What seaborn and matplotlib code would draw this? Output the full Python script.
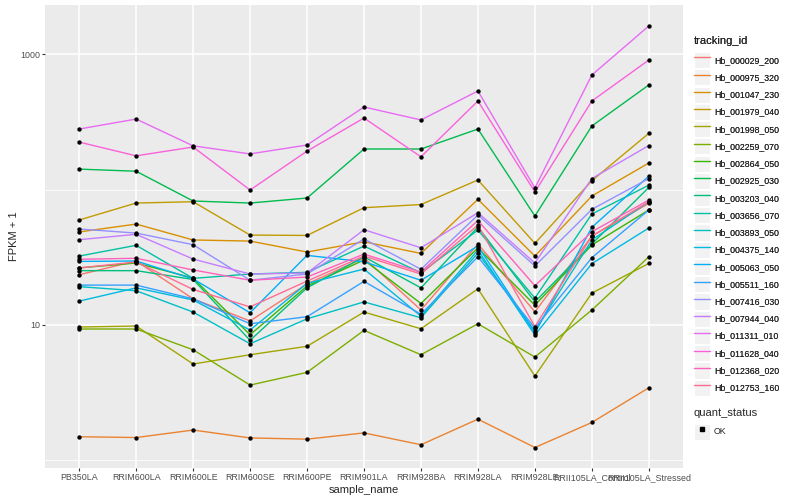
import numpy as np
import pandas as pd
import seaborn as sns
import matplotlib.pyplot as plt
from matplotlib.lines import Line2D
from matplotlib.patches import Rectangle
from matplotlib.legend_handler import HandlerLine2D
from matplotlib.ticker import FixedLocator, NullFormatter

# Data (FPKM + 1)
samples = ['PB350LA', 'RRIM600LA', 'RRIM600LE', 'RRIM600SE', 'RRIM600PE', 'RRIM901LA',
           'RRIM928BA', 'RRIM928LA', 'RRIM928LE', 'RRII105LA_Control', 'RRII105LA_Stressed']

hb_000029_200 = [23.5, 29.7, 15.6, 10.7, 20.1, 31.3, 12.9, 39.7, 12.5, 45.4, 79.3]
hb_000975_320 = [1.49, 1.47, 1.67, 1.46, 1.43, 1.59, 1.30, 2.01, 1.24, 1.90, 3.43]
hb_001047_230 = [48.7, 55.7, 42.5, 41.7, 34.6, 41.2, 33.8, 84.9, 32.3, 89.8, 157.6]
hb_001979_040 = [59.7, 79.7, 81.5, 46.2, 45.9, 73.6, 77.7, 118, 40.1, 116.6, 261]
hb_001998_050 = [9.65, 9.82, 5.14, 6.02, 6.95, 12.45, 9.37, 18.5, 4.19, 17.2, 28.5]
hb_002259_070 = [9.33, 9.33, 6.55, 3.59, 4.46, 9.12, 6.02, 10.2, 5.79, 12.9, 31.9]
hb_002864_050 = [26.4, 28.7, 22.2, 8.46, 19.4, 30.2, 14.4, 37.1, 14.0, 39.0, 70.8]
hb_002925_030 = [142, 137, 82.5, 79.7, 86.8, 200, 200, 281, 63.9, 296, 595]
hb_003203_040 = [25.2, 25.2, 21.7, 7.69, 18.8, 31.9, 18.8, 53.0, 14.8, 39.7, 104]
hb_003656_070 = [32.3, 38.8, 22.1, 23.8, 24.5, 38.3, 24.3, 50.3, 15.8, 66.1, 108]
hb_003893_050 = [19.2, 17.9, 12.45, 7.26, 11.1, 14.8, 11.3, 34.0, 9.01, 42.5, 81.5]
hb_004375_140 = [15.0, 18.8, 15.3, 9.17, 20.3, 25.9, 11.6, 35.8, 8.42, 28.4, 52.1]
hb_005063_050 = [29.5, 29.7, 21.9, 12.3, 32.7, 29.3, 21.4, 38.3, 8.71, 52.7, 126]
hb_005511_160 = [19.7, 19.7, 15.6, 10.2, 11.5, 21.0, 12.0, 31.9, 9.49, 31.4, 70.8]
hb_007416_030 = [51.2, 47.8, 39.2, 21.4, 23.8, 43.2, 25.8, 65.0, 27.3, 71.6, 121]
hb_007944_040 = [42.7, 46.8, 30.7, 23.8, 24.2, 50.6, 37.2, 67.6, 28.7, 121, 212]
hb_011311_010 = [281, 333, 211, 184, 214, 409, 328, 537, 103, 705, 1625]
hb_011628_040 = [225, 178, 207, 99.5, 193, 339, 175, 453, 96.2, 453, 910]
hb_012368_020 = [30.6, 31.1, 25.5, 21.4, 22.6, 33.4, 24.6, 59.2, 19.5, 48.9, 83.9]
hb_012753_160 = [26.4, 29.2, 18.3, 13.6, 21.1, 32.3, 23.8, 54.8, 9.70, 45.4, 81.5]

tracking_ids = ['Hb_000029_200', 'Hb_000975_320', 'Hb_001047_230', 'Hb_001979_040',
                'Hb_001998_050', 'Hb_002259_070', 'Hb_002864_050', 'Hb_002925_030',
                'Hb_003203_040', 'Hb_003656_070', 'Hb_003893_050', 'Hb_004375_140',
                'Hb_005063_050', 'Hb_005511_160', 'Hb_007416_030', 'Hb_007944_040',
                'Hb_011311_010', 'Hb_011628_040', 'Hb_012368_020', 'Hb_012753_160']
series = [hb_000029_200, hb_000975_320, hb_001047_230, hb_001979_040, hb_001998_050,
          hb_002259_070, hb_002864_050, hb_002925_030, hb_003203_040, hb_003656_070,
          hb_003893_050, hb_004375_140, hb_005063_050, hb_005511_160, hb_007416_030,
          hb_007944_040, hb_011311_010, hb_011628_040, hb_012368_020, hb_012753_160]

# ggplot2 default hue palette for 20 levels
colors = ['#F8766D', '#EA8331', '#D89000', '#C09B00', '#A3A500', '#7CAE00', '#39B600',
          '#00BB4E', '#00BF7D', '#00C1A3', '#00BFC4', '#00BAE0', '#00B0F6', '#35A2FF',
          '#9590FF', '#C77CFF', '#E76BF3', '#FA62DB', '#FF62BC', '#FF6C91']

rows = []
for tid, vals in zip(tracking_ids, series):
    for i, v in enumerate(vals):
        rows.append({'tracking_id': tid, 'sample_name': samples[i], 'pos': i, 'fpkm1': v})
df = pd.DataFrame(rows)

# Style (ggplot theme_grey look)
sns.set_theme(style='darkgrid', rc={'axes.facecolor': '#EBEBEB', 'figure.facecolor': 'white'})
plt.rcParams['font.family'] = ['Liberation Sans', 'DejaVu Sans']

fig, ax = plt.subplots(figsize=(8, 5), dpi=100)
fig.subplots_adjust(left=45/800, right=683/800, top=1-5/500, bottom=1-468/500)

sns.lineplot(data=df, x='pos', y='fpkm1', hue='tracking_id', hue_order=tracking_ids,
             palette=colors, lw=1.0, legend=False, sort=False, ax=ax)
sns.scatterplot(data=df, x='pos', y='fpkm1', color='black', s=10, linewidth=0,
                legend=False, ax=ax, zorder=3)

ax.set_yscale('log')
ax.set_xlim(-0.6, 10.6)
ax.set_ylim(10**-0.058, 10**3.366)
ax.set_xticks(range(len(samples)))
ax.set_xticklabels(samples)
ax.yaxis.set_major_locator(FixedLocator([10, 1000]))
ax.yaxis.set_major_formatter(plt.FuncFormatter(lambda v, p: f'{v:g}'))
ax.yaxis.set_minor_locator(FixedLocator([1, 100]))
ax.yaxis.set_minor_formatter(NullFormatter())

ax.grid(which='major', color='white', lw=1.1)
ax.grid(which='minor', axis='y', color='white', lw=0.55)
ax.tick_params(which='major', length=2.2, width=0.8, color='#333333', labelsize=6.4,
               labelcolor='#4D4D4D', pad=1.5, bottom=True, left=True)
ax.tick_params(which='minor', length=0)
for s in ax.spines.values():
    s.set_visible(False)

ax.set_xlabel('sample_name', fontsize=8, labelpad=2)
ax.set_ylabel('FPKM + 1', fontsize=8, labelpad=0.5)


class KeyHandler(HandlerLine2D):
    def create_artists(self, legend, orig_handle, xdescent, ydescent, width, height, fontsize, trans):
        arts = super().create_artists(legend, orig_handle, xdescent, ydescent, width, height, fontsize, trans)
        bg = Rectangle((-xdescent, -ydescent), width, height, fc='#F2F2F2', ec='white', lw=0.8, transform=trans)
        return [bg] + list(arts)


legend_kw = dict(loc='upper left', frameon=False, fontsize=6.3, title_fontsize=8,
                 alignment='left', handlelength=1.85, handleheight=2.47, labelspacing=0.12,
                 handletextpad=0.45, borderpad=0, borderaxespad=0,
                 handler_map={Line2D: KeyHandler()})

handles = [Line2D([], [], color=c, lw=1.0) for c in colors]
leg1 = fig.legend(handles, tracking_ids, title='tracking_id',
                  bbox_to_anchor=(694/800, 1-36.5/500), **legend_kw)
leg1._legend_box.sep = 4
fig.add_artist(leg1)

ok_handle = Line2D([], [], color='black', marker='s', ms=2.2, lw=0)
leg2 = fig.legend([ok_handle], ['OK'], title='quant_status',
                  bbox_to_anchor=(694/800, 1-408/500), **legend_kw)
leg2._legend_box.sep = 4

fig.savefig('out.png', dpi=100)
